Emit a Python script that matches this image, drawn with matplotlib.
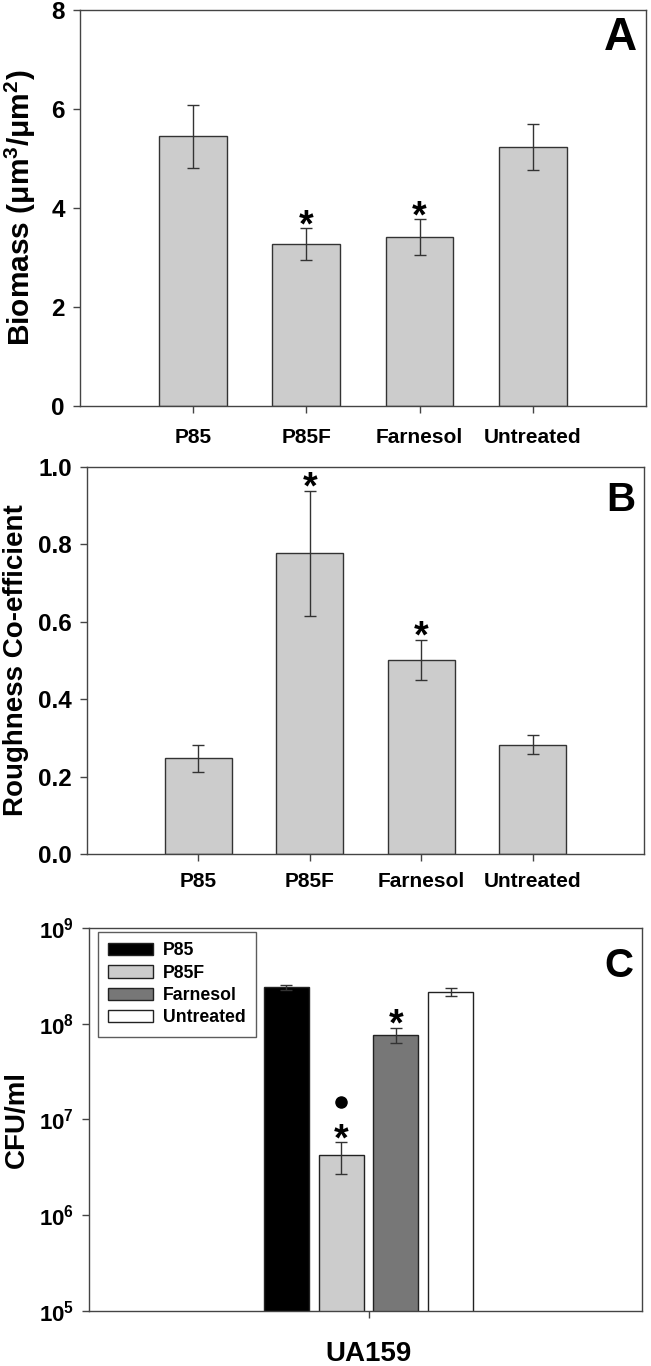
import matplotlib
matplotlib.use("Agg")
import matplotlib.pyplot as plt
import matplotlib.transforms as mtransforms
from matplotlib.patches import Patch

plt.rcParams['font.family'] = ['Liberation Sans', 'DejaVu Sans']
plt.rcParams['font.weight'] = 'bold'
plt.rcParams['mathtext.fontset'] = 'custom'
plt.rcParams['mathtext.rm'] = 'Liberation Sans:bold'
plt.rcParams['mathtext.bf'] = 'Liberation Sans:bold'
plt.rcParams['mathtext.default'] = 'rm'

# Data
treatments = ['P85', 'P85F', 'Farnesol', 'Untreated']

biomass = [5.45, 3.27, 3.42, 5.23]
biomass_err = [0.64, 0.33, 0.36, 0.47]
biomass_sig = [False, True, True, False]

roughness = [0.247, 0.777, 0.502, 0.283]
roughness_err = [0.034, 0.162, 0.052, 0.025]
roughness_sig = [False, True, True, False]

strain = 'UA159'
cfu = [2.40e8, 4.26e6, 7.7e7, 2.16e8]
cfu_err = [0.14e8, 1.56e6, 1.42e7, 0.22e8]
cfu_sig = [False, True, True, False]
cfu_dot = [False, True, False, False]
cfu_colors = ['#000000', '#cccccc', '#777777', '#ffffff']

edge = '#333333'
bar_grey = '#cccccc'

fig = plt.figure(figsize=(6.51, 13.66), dpi=100)


def style_axes(ax, xpad):
    for s in ax.spines.values():
        s.set_color('#444444')
        s.set_linewidth(1.0)
    ax.tick_params(direction='out', length=5, width=1, color='#444444')
    ax.tick_params(axis='y', labelsize=17.5, pad=6)
    ax.tick_params(axis='x', labelsize=15, pad=xpad)


def star(ax, x, y):
    ax.annotate('*', xy=(x, y), xytext=(0, -6), textcoords='offset points',
                ha='center', va='baseline', fontsize=27, fontweight='bold')


def bar_panel(rect, vals, errs, sig, ylim, yticks, fmt, ylabel, lab_size, letter, lab_x,
              let_y, let_size, xpad):
    ax = fig.add_axes(rect)
    pos = list(range(1, len(treatments) + 1))
    ax.bar(pos, vals, width=0.6, color=bar_grey, edgecolor=edge, linewidth=1.0, zorder=2)
    ax.errorbar(pos, vals, yerr=errs, fmt='none', ecolor=edge, elinewidth=1.0,
                capsize=4.5, capthick=1.0, zorder=3)
    for p, v, e, s in zip(pos, vals, errs, sig):
        if s:
            star(ax, p, v + e)
    ax.set_xlim(0, 5)
    ax.set_ylim(*ylim)
    ax.set_xticks(pos)
    ax.set_xticklabels(treatments)
    ax.set_yticks(yticks)
    ax.set_yticklabels([fmt.format(t) for t in yticks])
    ax.set_ylabel(ylabel, fontsize=lab_size, fontweight='bold')
    ax.yaxis.set_label_coords(lab_x, 0.5)
    ax.text(0.984, let_y, letter, transform=ax.transAxes, ha='right', va='top',
            fontsize=let_size, fontweight='bold')
    style_axes(ax, xpad)
    return ax


# Panel A
bar_panel([0.123, 0.7028, 0.869, 0.2899], biomass, biomass_err, biomass_sig,
          (0, 8), [0, 2, 4, 6, 8], '{:.0f}', 'Biomass (μm$^3$/μm$^2$)', 21.5, 'A',
          -0.074, 0.985, 33, 11)

# Panel B
bar_panel([0.1336, 0.3748, 0.8556, 0.2833], roughness, roughness_err, roughness_sig,
          (0, 1.0), [0.0, 0.2, 0.4, 0.6, 0.8, 1.0], '{:.1f}', 'Roughness Co-efficient', 20,
          'B', -0.104, 0.965, 29, 8)

# Panel C
axc = fig.add_axes([0.1367, 0.0403, 0.8495, 0.2804])
offs = [-1.5, -0.5, 0.5, 1.5]
axc.bar(offs, cfu, width=0.82, color=cfu_colors, edgecolor='#222222', linewidth=1.0, zorder=2)
axc.errorbar(offs, cfu, yerr=cfu_err, fmt='none', ecolor=edge, elinewidth=1.0,
             capsize=4.5, capthick=1.0, zorder=3)
axc.set_yscale('log')
axc.set_ylim(1e5, 1e9)
axc.set_xlim(-5.11, 5.0)
for x, v, e, s, d in zip(offs, cfu, cfu_err, cfu_sig, cfu_dot):
    if s:
        star(axc, x, v + e)
    if d:
        tr = mtransforms.offset_copy(axc.transData, fig=fig, x=0, y=29, units='points')
        axc.plot([x], [v + e], 'o', color='black', markersize=8, transform=tr,
                 clip_on=False, zorder=4)
axc.set_xticks([0])
axc.set_xticklabels([strain])
axc.set_yticks([1e5, 1e6, 1e7, 1e8, 1e9])
axc.set_yticklabels([r'$10^{%d}$' % e for e in range(5, 10)])
axc.minorticks_off()
style_axes(axc, 16.5)
axc.tick_params(axis='x', labelsize=20)
axc.tick_params(axis='y', labelsize=16)
axc.set_ylabel('CFU/ml', fontsize=20, fontweight='bold')
axc.yaxis.set_label_coords(-0.107, 0.5)
axc.text(0.984, 0.95, 'C', transform=axc.transAxes, ha='right', va='top',
         fontsize=29, fontweight='bold')

handles = [Patch(facecolor=c, edgecolor='#222222', linewidth=1.0) for c in cfu_colors]
leg = axc.legend(handles, treatments, loc='upper left', bbox_to_anchor=(0.016, 0.99),
                 borderaxespad=0, fontsize=12.7, frameon=True, fancybox=False,
                 handlelength=2.5, handleheight=0.7, labelspacing=0.3,
                 handletextpad=0.6, borderpad=0.6)
leg.get_frame().set_edgecolor('#333333')
leg.get_frame().set_linewidth(1.0)
for t in leg.get_texts():
    t.set_fontweight('bold')

fig.savefig('out.png', dpi=100)
